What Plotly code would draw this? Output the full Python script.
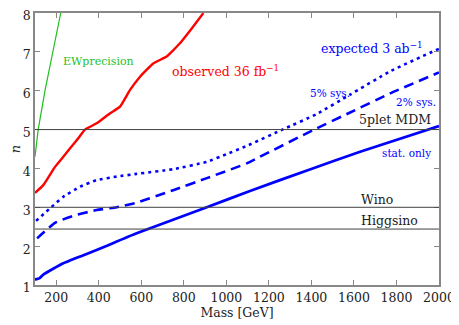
import plotly.graph_objects as go

# EW precision bound
ew_mass = [100, 115, 147, 183, 221]
ew_n = [4.30, 5.00, 6.00, 7.00, 8.00]

# observed 36 fb^-1
obs_mass = [100, 139, 194, 218, 265, 304, 335, 390, 453, 500, 547, 594, 656, 719, 782, 837, 892]
obs_n = [3.37, 3.57, 4.04, 4.20, 4.52, 4.78, 5.00, 5.16, 5.42, 5.59, 6.02, 6.36, 6.70, 6.88, 7.22, 7.60, 8.00]

# expected 3 ab^-1, 5% sys.
sys5_mass = [105, 178, 233, 312, 390, 484, 578, 750, 908, 1002, 1096, 1268, 1425, 1582, 1770, 2000]
sys5_n = [2.65, 3.01, 3.27, 3.53, 3.70, 3.79, 3.86, 3.98, 4.17, 4.37, 4.58, 5.01, 5.40, 5.90, 6.50, 7.08]

# expected 3 ab^-1, 2% sys.
sys2_mass = [110, 194, 280, 390, 484, 578, 750, 908, 1096, 1158, 1409, 1582, 1770, 2000]
sys2_n = [2.20, 2.60, 2.78, 2.93, 3.00, 3.12, 3.44, 3.75, 4.13, 4.30, 4.99, 5.44, 5.93, 6.47]

# expected 3 ab^-1, stat. only
stat_mass = [100, 120, 139, 233, 390, 578, 908, 1111, 1386, 1629, 2000]
stat_n = [1.14, 1.17, 1.27, 1.56, 1.90, 2.33, 3.00, 3.42, 3.96, 4.43, 5.09]

# reference multiplets
ref_names = ["5plet MDM", "Wino", "Higgsino"]
ref_n = [5.0, 3.0, 2.44]

font = "DejaVu Serif"
blue = "#0000ff"

fig = go.Figure()
fig.add_trace(go.Scatter(x=ew_mass, y=ew_n, mode="lines", line=dict(color="#1fbf1f", width=1.2)))
fig.add_trace(go.Scatter(x=obs_mass, y=obs_n, mode="lines", line=dict(color="#ff0000", width=2.4, shape="spline", smoothing=0.4)))
fig.add_trace(go.Scatter(x=sys5_mass, y=sys5_n, mode="lines", line=dict(color=blue, width=2.6, dash="3px,4px", shape="spline", smoothing=0.4)))
fig.add_trace(go.Scatter(x=sys2_mass, y=sys2_n, mode="lines", line=dict(color=blue, width=2.6, dash="10px,6px", shape="spline", smoothing=0.4)))
fig.add_trace(go.Scatter(x=stat_mass, y=stat_n, mode="lines", line=dict(color=blue, width=2.8, shape="spline", smoothing=0.4)))

for n in ref_n:
    fig.add_hline(y=n, line=dict(color="#404040", width=1))

labels = [
    (222, 6.75, "EWprecision", "#1fbf1f", 11, "left"),
    (735, 6.51, "observed 36 fb<sup>−1</sup>", "#ff0000", 12.5, "left"),
    (1936, 7.09, "expected 3 ab<sup>−1</sup>", blue, 12.5, "right"),
    (1384, 5.93, "5% sys.", blue, 10.5, "left"),
    (1995, 5.72, "2% sys.", blue, 10.5, "right"),
    (1972, 5.25, "5plet MDM", "#222222", 12.5, "right"),
    (1972, 4.39, "stat. only", blue, 10.5, "right"),
    (1624, 3.21, "Wino", "#222222", 12.5, "left"),
    (1624, 2.67, "Higgsino", "#222222", 12.5, "left"),
]
for x, y, t, c, s, anchor in labels:
    fig.add_annotation(x=x, y=y, text=t, showarrow=False, xanchor=anchor, yanchor="middle",
                       font=dict(family=font, size=s, color=c))

axis_style = dict(showgrid=False, zeroline=False, showline=True, linecolor="#888888", linewidth=1.5,
                  mirror="ticks", ticks="inside", ticklen=5, tickcolor="#888888", tickwidth=1,
                  automargin=False, ticklabeloverflow="allow",
                  tickfont=dict(family=font, size=12.5, color="#222222"))

fig.update_xaxes(range=[100, 2000], tick0=200, dtick=200, title=dict(text="Mass [GeV]", standoff=2,
                 font=dict(family=font, size=12.5, color="#222222")), **axis_style)
fig.update_yaxes(range=[1, 8], dtick=1, ticklabelshift=3, title=dict(text="<i>n</i>", standoff=11,
                 font=dict(family=font, size=13, color="#222222")), **axis_style)

# the page body adds an 8px offset, so the figure is 8px smaller and margins shifted
fig.update_layout(width=451, height=317, margin=dict(l=27, r=20, t=5, b=40, autoexpand=False),
                  plot_bgcolor="white", paper_bgcolor="white", showlegend=False)

fig.write_html("out.html")
